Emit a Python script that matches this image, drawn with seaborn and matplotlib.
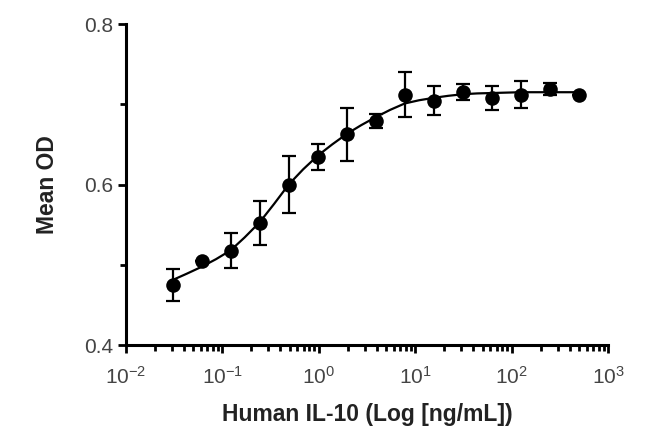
import numpy as np
import matplotlib
matplotlib.use('Agg')
import matplotlib.pyplot as plt
import matplotlib.ticker as mticker
import seaborn as sns

# ── data (2-fold dilution series)
conc = [0.0305, 0.061, 0.122, 0.244, 0.488, 0.977, 1.95, 3.91, 7.81,
        15.6, 31.25, 62.5, 125, 250, 500]
mean_od = [0.475, 0.505, 0.5175, 0.552, 0.600, 0.634, 0.6625, 0.679, 0.712,
           0.7045, 0.7155, 0.7075, 0.712, 0.719, 0.7115]
od_err = [0.020, 0.0, 0.022, 0.028, 0.035, 0.016, 0.033, 0.009, 0.028,
          0.018, 0.010, 0.015, 0.017, 0.008, 0.0]

# fitted curve
curve_x = [0.0305, 0.043, 0.061, 0.086, 0.122, 0.17, 0.244, 0.345, 0.488,
           0.69, 0.977, 1.38, 1.95, 2.76, 3.91, 5.5, 7.81, 11, 15.6,
           22, 31.25, 44, 62.5, 88, 125, 250, 500]
curve_y = [0.481, 0.489, 0.4975, 0.507, 0.518, 0.534, 0.553, 0.576, 0.600,
           0.619, 0.636, 0.650, 0.663, 0.674, 0.684, 0.693, 0.701, 0.705, 0.708,
           0.7105, 0.7125, 0.7135, 0.714, 0.7145, 0.715, 0.715, 0.715]

sns.set_theme(style='ticks')
plt.rcParams['font.family'] = ['Liberation Sans', 'DejaVu Sans']
plt.rcParams['mathtext.default'] = 'regular'

fig = plt.figure(figsize=(6.5, 4.38), dpi=100)
ax = fig.add_axes([0.1938, 0.2123, 0.7415, 0.7329])

sns.lineplot(x=curve_x, y=curve_y, ax=ax, color='black', linewidth=1.6)
ax.errorbar(conc, mean_od, yerr=od_err, fmt='none', ecolor='black',
            elinewidth=1.6, capsize=5, capthick=1.6)
sns.scatterplot(x=conc, y=mean_od, ax=ax, color='black', s=110,
                edgecolor='black', linewidth=0, zorder=5)

ax.set_xscale('log')
ax.set_xlim(1e-2, 1e3)
ax.set_ylim(0.4, 0.8)
ax.xaxis.set_major_locator(mticker.LogLocator(base=10, numticks=10))
ax.xaxis.set_minor_locator(mticker.LogLocator(base=10, subs=np.arange(2, 10), numticks=20))
ax.xaxis.set_minor_formatter(mticker.NullFormatter())
ax.set_yticks([0.4, 0.6, 0.8])
ax.set_yticklabels(['0.4', '0.6', '0.8'])
ax.yaxis.set_minor_locator(mticker.FixedLocator([0.5, 0.7]))

for side in ['top', 'right']:
    ax.spines[side].set_visible(False)
for side in ['left', 'bottom']:
    ax.spines[side].set_linewidth(2.2)
    ax.spines[side].set_color('black')

ax.tick_params(axis='both', which='major', direction='out', length=6, width=2,
               color='black', labelsize=15, labelcolor='#444444', pad=3)
ax.tick_params(axis='both', which='minor', direction='out', length=4, width=2,
               color='black')
ax.tick_params(axis='x', which='major', pad=9)

ax.set_xlabel('Human IL-10 (Log [ng/mL])', fontsize=16.5, fontweight='bold',
              color='#222222', labelpad=11)
ax.set_ylabel('Mean OD', fontsize=16.5, fontweight='bold', color='#222222', labelpad=18)

fig.savefig('out.png', dpi=100)
